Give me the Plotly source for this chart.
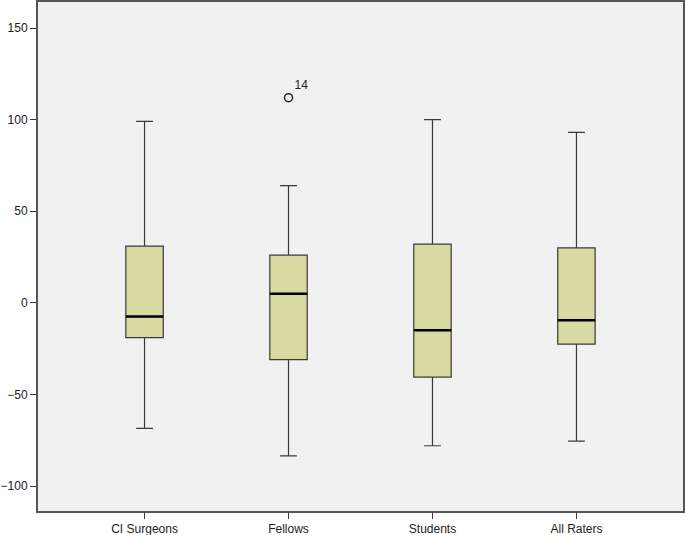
import plotly.graph_objects as go

groups = ["CI Surgeons", "Fellows", "Students", "All Raters"]
lower_whisker = [-68.5, -83.5, -78, -75.5]
q1 = [-19, -31, -40.5, -22.5]
median = [-7.5, 5, -15, -9.5]
q3 = [31, 26, 32, 30]
upper_whisker = [99, 64, 100, 93]

outlier_group = [1]
outlier_value = [112]
outlier_label = ["14"]

y_ticks = [-100, -50, 0, 50, 100, 150]

pos = list(range(len(groups)))
box_w = 0.26
edge = "#3a3a3a"

fig = go.Figure()

fig.add_trace(go.Box(
    x=pos,
    q1=q1, median=median, q3=q3,
    lowerfence=lower_whisker, upperfence=upper_whisker,
    width=box_w,
    whiskerwidth=0.45,
    fillcolor="#d9d9a2",
    line=dict(color=edge, width=1.2),
    boxpoints=False,
    showlegend=False,
    hoverinfo="skip",
))

# thicker median bars like SPSS
mx, my = [], []
for p, m in zip(pos, median):
    mx += [p - box_w / 2, p + box_w / 2, None]
    my += [m, m, None]
fig.add_trace(go.Scatter(
    x=mx, y=my, mode="lines",
    line=dict(color="black", width=2.5),
    showlegend=False, hoverinfo="skip",
))

fig.add_trace(go.Scatter(
    x=outlier_group, y=outlier_value,
    mode="markers+text",
    text=outlier_label,
    textposition="top right",
    textfont=dict(size=12, color="#222"),
    marker=dict(symbol="circle-open", size=8, color="#222", line=dict(width=1.5)),
    showlegend=False, hoverinfo="skip",
))

fig.update_layout(
    width=685, height=535,
    margin=dict(l=38, r=2, t=2, b=24),
    paper_bgcolor="white",
    plot_bgcolor="#f1f1f1",
    font=dict(family="Liberation Sans, Arial, sans-serif", size=12, color="#222"),
    xaxis=dict(
        range=[-0.74, 3.74],
        tickvals=pos, ticktext=groups,
        ticks="outside", ticklen=6, tickcolor=edge,
        showgrid=False, zeroline=False, automargin=False,
        showline=True, linecolor="#555", linewidth=2, mirror=True,
    ),
    yaxis=dict(
        range=[-113.6, 164.2],
        tickvals=y_ticks,
        ticks="outside", ticklen=6, tickcolor=edge,
        ticklabelstandoff=0,
        showgrid=False, zeroline=False, automargin=False,
        showline=True, linecolor="#555", linewidth=2, mirror=True,
    ),
)

# page body has a default 8px margin; drop it so the figure fills the window
fig.write_html("out.html", config={"displayModeBar": False},
               post_script="document.body.style.margin='0';")
